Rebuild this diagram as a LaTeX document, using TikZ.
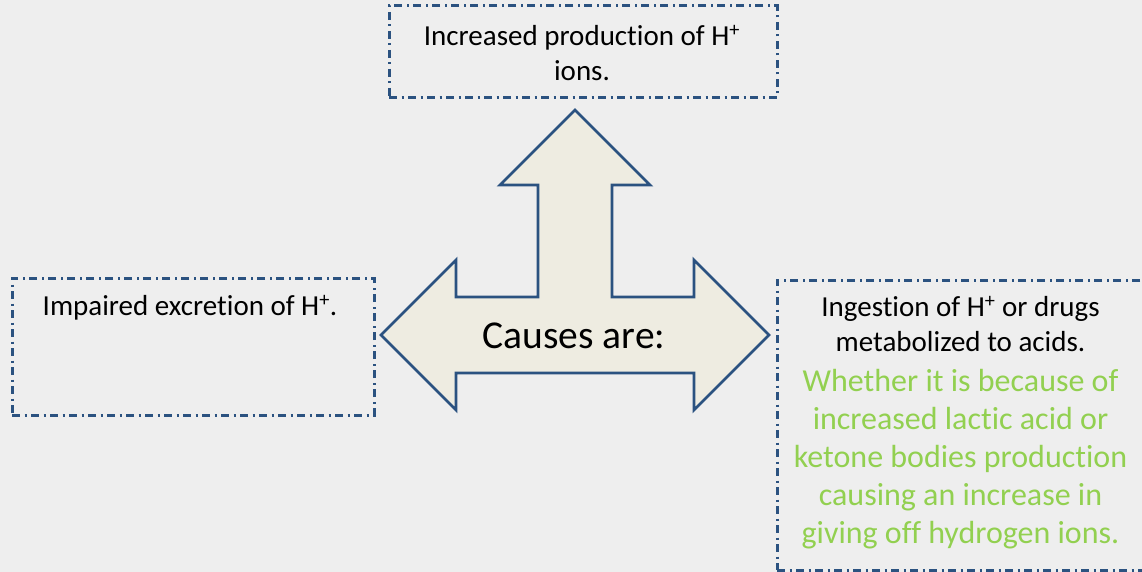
\documentclass[tikz,border=0pt]{standalone}
\usepackage{fontspec}
\setmainfont[Ligatures=NoCommon]{Carlito}
\usetikzlibrary{positioning}
\definecolor{cbg}{HTML}{EEEEEE}
\definecolor{cnavy}{HTML}{2B5280}
\definecolor{ctan}{HTML}{EEECE1}
\definecolor{cgreen}{HTML}{92D050}
\tikzset{
  every picture/.style={line width=3pt},
  causebox/.style={draw=cnavy, dash pattern=on 8pt off 4.5pt on 2pt off 4.5pt, inner sep=0pt},
  txt/.style={font=\fontsize{29}{35}\selectfont, align=center, inner sep=0pt, text=black},
  note/.style={font=\fontsize{32}{38}\selectfont, align=center, inner sep=0pt, text=cgreen},
  bigarrow/.style={draw=cnavy, fill=ctan, line width=2.7pt, line join=miter},
}

\begin{document}
\begin{tikzpicture}[x=1pt, y=-1pt]
  \useasboundingbox[fill=cbg] (0,0) rectangle (1142,572);
  % three-headed arrow
  \draw[bigarrow] (575,110) -- (650,185) -- (612,185) -- (612,297) -- (694,297) -- (694,260)
    -- (769,335) -- (694,410) -- (694,373) -- (456,373) -- (456,410) -- (381,335)
    -- (456,260) -- (456,297) -- (538,297) -- (538,185) -- (500,185) -- cycle;
  \node[txt, font=\fontsize{39.5}{46}\selectfont] (causes) at (574,336) {Causes are:};
  % boxes
  \node[causebox, minimum width=388pt, minimum height=92pt] (up) at (583,52) {};
  \node[causebox, minimum width=362pt, minimum height=137pt] (left) at (193,346.5) {};
  \node[causebox, minimum width=369pt, minimum height=290pt] (right) at (961.5,425) {};
  % texts
  \node[txt, below=19pt of up.north, xshift=-1pt] (uptext) {Increased production of H\textsuperscript{+}\\ions.};
  \node[txt, below=17pt of left.north, xshift=-3pt] (lefttext) {Impaired excretion of H\textsuperscript{+}.};
  \node[txt, below=16pt of right.north, xshift=-1pt] (righttext) {Ingestion of H\textsuperscript{+} or drugs\\metabolized to acids.};
  \node[note, below=15pt of righttext] (greentext) {Whether it is because of\\increased lactic acid or\\ketone bodies production\\causing an increase in\\giving off hydrogen ions.};
\end{tikzpicture}
\end{document}
